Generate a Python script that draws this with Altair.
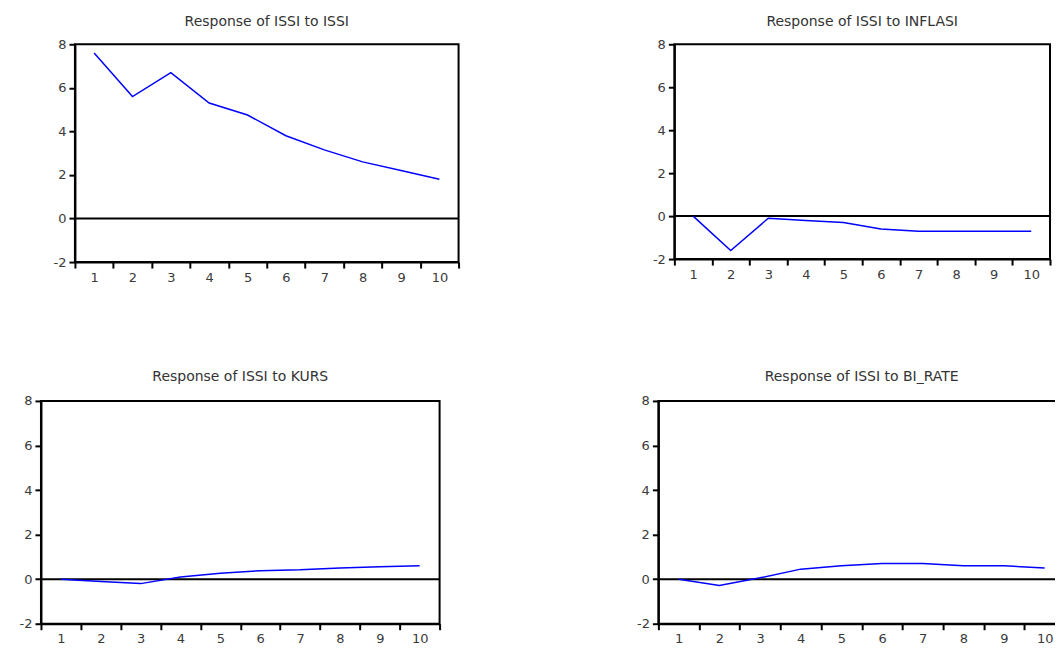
import altair as alt
import pandas as pd

periods = list(range(1, 11))
issi_issi = [7.6, 5.6, 6.7, 5.3, 4.75, 3.8, 3.15, 2.6, 2.2, 1.8]
issi_inflasi = [0.0, -1.6, -0.1, -0.2, -0.3, -0.6, -0.7, -0.7, -0.7, -0.7]
issi_kurs = [0.0, -0.1, -0.2, 0.1, 0.27, 0.38, 0.42, 0.5, 0.56, 0.6]
issi_birate = [0.0, -0.28, 0.06, 0.45, 0.6, 0.7, 0.7, 0.6, 0.6, 0.5]

titles = [
    "Response of ISSI to ISSI",
    "Response of ISSI to INFLASI",
    "Response of ISSI to KURS",
    "Response of ISSI to BI_RATE",
]
y_ticks = [-2, 0, 2, 4, 6, 8]
y_domain = [-2, 8]


def panel(values, title, width, height, y_extent, title_offset):
    df = pd.DataFrame({"period": periods, "response": values})
    line = alt.Chart(df).mark_line(color="#0000ff", strokeWidth=1.5).encode(
        x=alt.X(
            "period:O",
            scale=alt.Scale(type="band", paddingInner=0, paddingOuter=0),
            bandPosition=0.5,
            axis=alt.Axis(tickBand="extent", labelAngle=0, labelPadding=3),
            title=None,
        ),
        y=alt.Y(
            "response:Q",
            scale=alt.Scale(domain=y_domain, nice=False, zero=False),
            axis=alt.Axis(
                values=y_ticks,
                minExtent=y_extent,
                maxExtent=y_extent,
                labelPadding=3,
                labelExpr="'' + datum.value",
            ),
            title=None,
        ),
    )
    zero = alt.Chart(pd.DataFrame({"z": [0]})).mark_rule(
        color="black", strokeWidth=2
    ).encode(y=alt.Y("z:Q", title=None))
    return alt.layer(zero, line).properties(
        width=width,
        height=height,
        title=alt.TitleParams(title, offset=title_offset),
    )


spacer = (
    alt.Chart(pd.DataFrame({"a": [0]}))
    .mark_rect(opacity=0)
    .encode(x=alt.value(0), x2=alt.value(6), y=alt.value(0), y2=alt.value(2))
    .properties(width=6, height=2, view=alt.ViewBackground(strokeOpacity=0))
)

tl = panel(issi_issi, titles[0], 384, 218, 27, 9)
tr = panel(issi_inflasi, titles[1], 376, 215, 213, 9)
bl = panel(issi_kurs, titles[2], 399, 223, 32, 11)
br = panel(issi_birate, titles[3], 407, 223, 216, 11)

top = alt.hconcat(spacer, tl, tr, spacing=0)
bottom = alt.hconcat(bl, br, spacing=0)

chart = (
    alt.vconcat(top, bottom, spacing=84)
    .properties(padding={"left": 0, "top": 6, "right": -12, "bottom": 0})
    .configure_view(stroke="black", strokeWidth=2)
    .configure_axis(
        domainColor="black",
        domainWidth=2,
        tickColor="black",
        tickWidth=2,
        tickSize=6,
        labelFont="DejaVu Sans",
        labelFontSize=13,
        labelColor="#3a3a3a",
        grid=False,
    )
    .configure_title(
        font="DejaVu Sans",
        fontSize=14,
        fontWeight="normal",
        color="#333333",
        anchor="middle",
    )
)

chart.save("out.html", embed_options={"renderer": "svg", "actions": False})
